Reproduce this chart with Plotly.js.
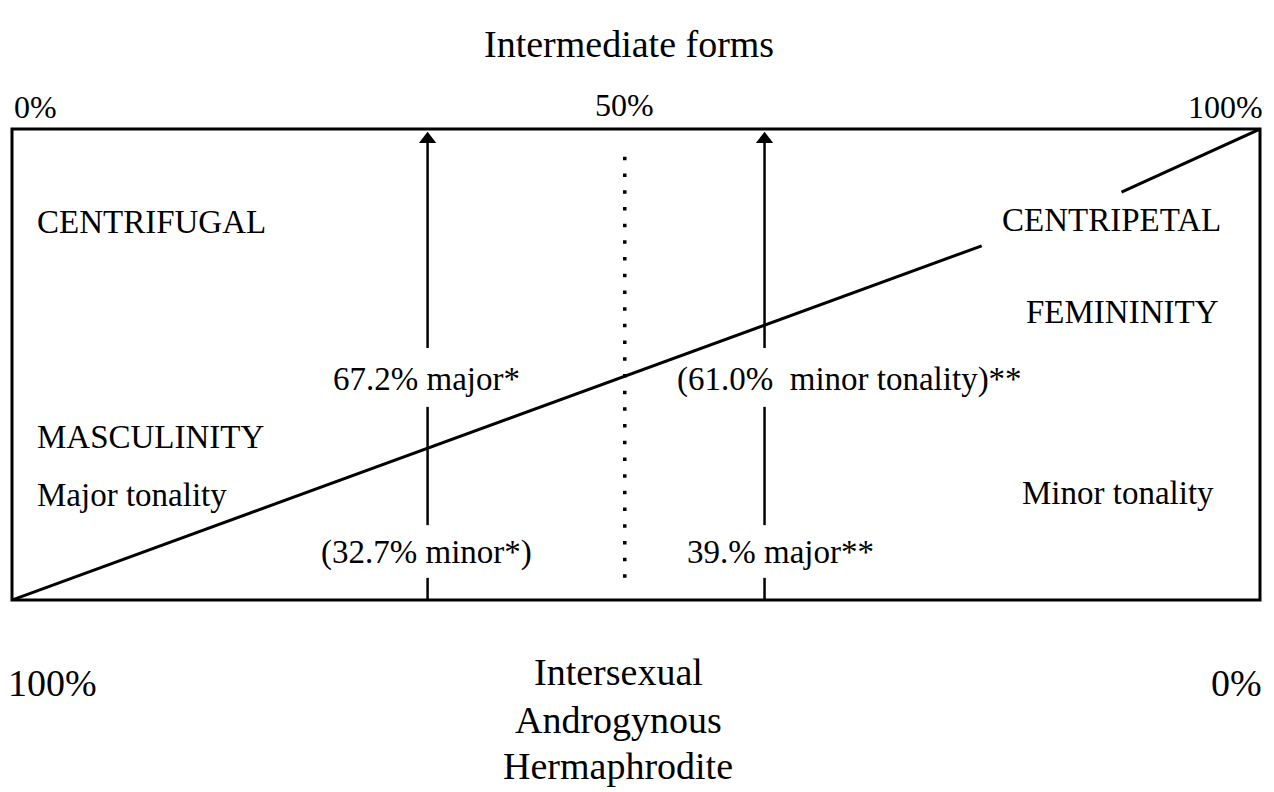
<!DOCTYPE html>
<html><head><meta charset="utf-8">
<script src="https://cdn.plot.ly/plotly-3.0.1.min.js"></script>
<style>html,body{margin:0;padding:0;background:#fff;} #chart{width:1274px;height:792px;}</style>
</head><body><div id="chart"></div>
<script>
// ---- data (percent scale of the box: x 0..100 left->right, y 0..100 bottom->top) ----
const diagLowerX = [0, 77.7];
const diagLowerY = [0, 75.2];
const diagUpperX = [88.9, 100];
const diagUpperY = [86.6, 100];

const arrowX = [33.3, 60.3];          // the two vertical arrows
const arrowSegStart = [0, 15.9, 53.5];
const arrowSegEnd = [4.7, 41.0, 97.3];
const arrowTipY = 97.8;

const midX = [49.1];                  // dotted 50% line
const midYRange = [4.7, 94.9];

const topScaleLabels = ['0%', '50%', '100%'];
const bottomScaleLabels = ['100%', '0%'];
const centerBottomLabels = ['Intersexual', 'Androgynous', 'Hermaphrodite'];
const titleText = 'Intermediate forms';
const leftLabels = ['CENTRIFUGAL', 'MASCULINITY', 'Major tonality'];
const rightLabels = ['CENTRIPETAL', 'FEMININITY', 'Minor tonality'];
const arrowUpperLabels = ['67.2% major*', '(61.0%\u00a0 minor tonality)**'];
const arrowLowerLabels = ['(32.7% minor*)', '39.% major**'];

// ---- geometry helpers (pixel -> paper) ----
const L = 12, R = 1260, T = 129, B = 600;
const fx = px => (px - L) / (R - L);
const fy = py => (B - py) / (B - T);
const FONT = 'Liberation Serif, Times New Roman, serif';

const traces = [];
const lineStyle = {color: '#000', width: 3};
traces.push({x: diagLowerX, y: diagLowerY, mode: 'lines', line: lineStyle, hoverinfo: 'skip'});
traces.push({x: diagUpperX, y: diagUpperY, mode: 'lines', line: lineStyle, hoverinfo: 'skip'});

arrowX.forEach(ax => {
  const xs = [], ys = [];
  arrowSegStart.forEach((s, i) => { xs.push(ax, ax, null); ys.push(s, arrowSegEnd[i], null); });
  traces.push({x: xs, y: ys, mode: 'lines', line: {color: '#000', width: 2.5}, hoverinfo: 'skip'});
});
traces.push({x: arrowX, y: arrowX.map(() => arrowTipY), mode: 'markers',
  marker: {symbol: 'triangle-up', size: 15, color: '#000'}, hoverinfo: 'skip', cliponaxis: false});

traces.push({x: [midX[0], midX[0]], y: midYRange, mode: 'lines',
  line: {color: '#000', width: 3.5, dash: '3.5px,13.2px'}, hoverinfo: 'skip'});

const ann = [];
function lab(text, px, py, anchor, size) {
  ann.push({text: text, xref: 'paper', yref: 'paper', x: fx(px), y: fy(py),
    xanchor: anchor, yanchor: 'middle', showarrow: false,
    font: {family: FONT, size: size, color: '#000'}});
}
// title
lab(titleText, 629, 44, 'center', 38);
// top scale
lab(topScaleLabels[0], 12, 107, 'left', 32);
lab(topScaleLabels[1], 624, 105, 'center', 32);
lab(topScaleLabels[2], 1265, 107, 'right', 32);
// bottom scale
lab(bottomScaleLabels[0], 6, 683, 'left', 38);
lab(bottomScaleLabels[1], 1264, 683, 'right', 38);
lab(centerBottomLabels[0], 618, 672, 'center', 38);
lab(centerBottomLabels[1], 618, 720, 'center', 38);
lab(centerBottomLabels[2], 618, 766, 'center', 38);
// left labels
lab(leftLabels[0], 35, 222, 'left', 33);
lab(leftLabels[1], 35, 437, 'left', 33);
lab(leftLabels[2], 35, 495, 'left', 33);
// right labels
lab(rightLabels[0], 1223, 220, 'right', 33);
lab(rightLabels[1], 1220, 312, 'right', 33);
lab(rightLabels[2], 1216, 493, 'right', 33);
// arrow labels
lab(arrowUpperLabels[0], 426, 379, 'center', 33);
lab(arrowUpperLabels[1], 675, 379, 'left', 33);
lab(arrowLowerLabels[0], 426, 552, 'center', 33);
lab(arrowLowerLabels[1], 685, 552, 'left', 33);

const layout = {
  width: 1274, height: 792,
  margin: {l: L, r: 1274 - R, t: T, b: 792 - B},
  paper_bgcolor: '#fff', plot_bgcolor: '#fff',
  showlegend: false,
  xaxis: {range: [0, 100], visible: false, fixedrange: true},
  yaxis: {range: [0, 100], visible: false, fixedrange: true},
  shapes: [{type: 'rect', xref: 'paper', yref: 'paper', x0: 0, x1: 1, y0: 0, y1: 1,
    line: {color: '#000', width: 3}}],
  annotations: ann
};
Plotly.newPlot('chart', traces, layout, {displayModeBar: false, staticPlot: true});
</script>
</body></html>
